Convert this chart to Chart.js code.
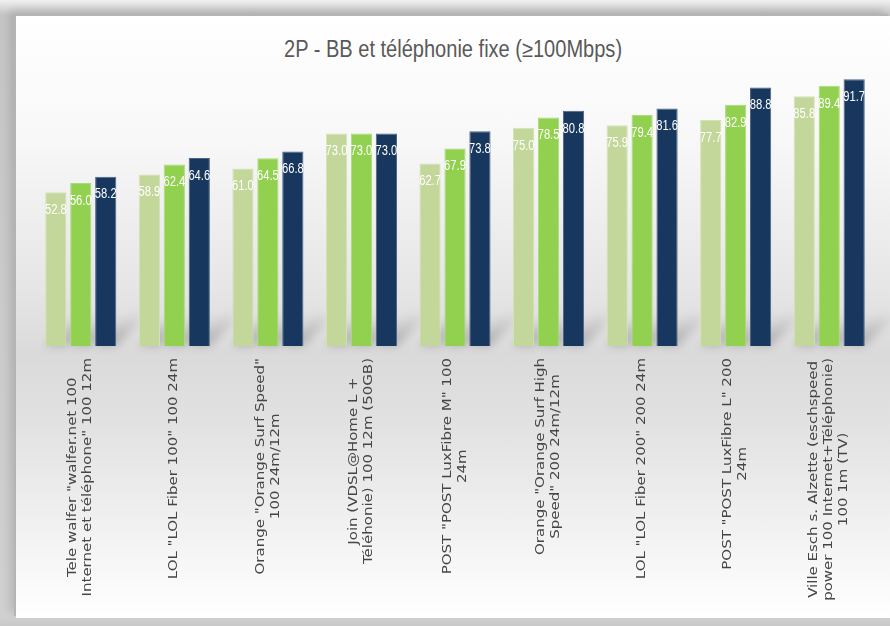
<!DOCTYPE html>
<html lang="fr">
<head>
<meta charset="utf-8">
<title>2P - BB et téléphonie fixe</title>
<script src="https://cdn.jsdelivr.net/npm/chart.js"></script>
<style>
  html,body{margin:0;padding:0;}
  body{width:890px;height:626px;overflow:hidden;position:relative;
       background:linear-gradient(to bottom,#f0f0f0 0,#c4c4c4 15px,#d0d0d0 618px,#c8c8c8 626px);}
  #panel{position:absolute;left:16px;top:16px;width:874px;height:602px;
         background:linear-gradient(to bottom,#ffffff 0%,#f8f8f8 20%,#e6e6e6 45%,#dadada 56%,#e2e2e2 68%,#f4f4f4 88%,#ffffff 100%);
         box-shadow:-2px -2px 0 #b4b4b4, -6px -6px 8px rgba(0,0,0,.12);}
  #title{position:absolute;left:0;right:0;top:20px;text-align:center;}
  #title span{display:inline-block;font-family:"Liberation Sans",Arial,sans-serif;
         font-size:23px;color:#595959;transform-origin:center;white-space:nowrap;}
  canvas{position:absolute;left:0;top:0;}
</style>
</head>
<body>
<div id="panel">
  <div id="title"><span>2P - BB et téléphonie fixe (≥100Mbps)</span></div>
  <canvas id="myChart" width="874" height="602"></canvas>
</div>

<script>
/* ── data ───────────────────────────────────────── */
const offers = [
  ['Tele walfer "walfer.net 100', 'Internet et téléphone" 100 12m'],
  ['LOL "LOL Fiber 100" 100 24m'],
  ['Orange "Orange Surf Speed"', '100 24m/12m'],
  ['Join (VDSL@Home L +', 'Téléhonie) 100 12m (50GB)'],
  ['POST "POST LuxFibre M" 100', '24m'],
  ['Orange "Orange Surf High', 'Speed" 200 24m/12m'],
  ['LOL "LOL Fiber 200" 200 24m'],
  ['POST "POST LuxFibre L" 200', '24m'],
  ['Ville Esch s. Alzette (eschspeed', 'power 100 Internet+Téléphonie)', '100 1m (TV)']
];
const serieA = [52.8, 58.9, 61.0, 73.0, 62.7, 75.0, 75.9, 77.7, 85.8];
const serieB = [56.0, 62.4, 64.5, 73.0, 67.9, 78.5, 79.4, 82.9, 89.4];
const serieC = [58.2, 64.6, 66.8, 73.0, 73.8, 80.8, 81.6, 88.8, 91.7];

const colours = ['#c4d79b', '#92d050', '#17375e'];
const borders = ['#d4e2b6', '#a9dc78', '#4b6482'];

// squeeze the title to the narrow look of the original
const t = document.querySelector('#title span');
t.style.transform = 'scaleX(' + (338 / t.offsetWidth).toFixed(3) + ')';

/* ── soft diagonal shadows at the bar bases ─────── */
const barShadows = {
  id:'barShadows',
  beforeDatasetsDraw(chart){
    const ctx = chart.ctx, base = chart.chartArea.bottom, d = 34;
    ctx.save();
    ctx.filter = 'blur(4px)';
    chart.data.datasets.forEach((ds,di)=>{
      chart.getDatasetMeta(di).data.forEach(bar=>{
        const l = bar.x - bar.width/2, r = bar.x + bar.width/2;
        const g = ctx.createLinearGradient(0, base, 0, base - d);
        g.addColorStop(0, 'rgba(0,0,0,0.22)');
        g.addColorStop(1, 'rgba(0,0,0,0)');
        ctx.fillStyle = g;
        ctx.beginPath();
        ctx.moveTo(l, base);
        ctx.lineTo(r, base);
        ctx.lineTo(r + d, base - d);
        ctx.lineTo(l + d, base - d);
        ctx.closePath();
        ctx.fill();
      });
    });
    ctx.restore();
  }
};

/* ── value labels inside bar tops ───────────────── */
const valueLabels = {
  id:'valueLabels',
  afterDatasetsDraw(chart){
    const ctx = chart.ctx, sx = 0.8;
    ctx.save();
    ctx.fillStyle = '#ffffff';
    ctx.font = '14px "Liberation Sans",Arial,sans-serif';
    ctx.textAlign = 'center';
    ctx.textBaseline = 'middle';
    chart.data.datasets.forEach((ds,di)=>{
      chart.getDatasetMeta(di).data.forEach((bar,i)=>{
        ctx.save();
        ctx.translate(bar.x, bar.y + 18);
        ctx.scale(sx, 1);
        ctx.fillText(ds.data[i].toFixed(1), 0, 0);
        ctx.restore();
      });
    });
    ctx.restore();
  }
};

/* ── rotated, centred category labels ───────────── */
const catLabels = {
  id:'catLabels',
  afterDraw(chart){
    const ctx = chart.ctx, xs = chart.scales.x;
    const top = chart.chartArea.bottom + 12, lh = 15, stretch = 1.25;
    ctx.save();
    ctx.fillStyle = '#454545';
    ctx.font = '12px "DejaVu Sans",Verdana,sans-serif';
    ctx.textAlign = 'center';
    ctx.textBaseline = 'middle';
    offers.forEach((lines,i)=>{
      const x = xs.getPixelForValue(i);
      const w = Math.max(...lines.map(l=>ctx.measureText(l).width)) * stretch;
      ctx.save();
      ctx.translate(x, top + w/2);
      ctx.rotate(-Math.PI/2);
      ctx.scale(stretch, 1);
      lines.forEach((l,k)=>{
        ctx.fillText(l, 0, (k - (lines.length-1)/2) * lh);
      });
      ctx.restore();
    });
    ctx.restore();
  }
};

/* ── chart ──────────────────────────────────────── */
new Chart(document.getElementById('myChart'), {
  type:'bar',
  data:{
    labels: offers.map(l=>l.join(' ')),
    datasets:[serieA, serieB, serieC].map((d,i)=>({
      data:d,
      backgroundColor:colours[i],
      borderColor:borders[i],
      borderWidth:1,
      categoryPercentage:0.8,
      barPercentage:0.85
    }))
  },
  options:{
    responsive:false,
    animation:false,
    layout:{padding:{left:18,right:14,top:39,bottom:272}},
    plugins:{legend:{display:false},title:{display:false},tooltip:{enabled:false}},
    scales:{
      x:{display:false, grid:{display:false}},
      y:{display:false, min:0, max:100, grid:{display:false}}
    }
  },
  plugins:[barShadows, valueLabels, catLabels]
});
</script>
</body>
</html>
